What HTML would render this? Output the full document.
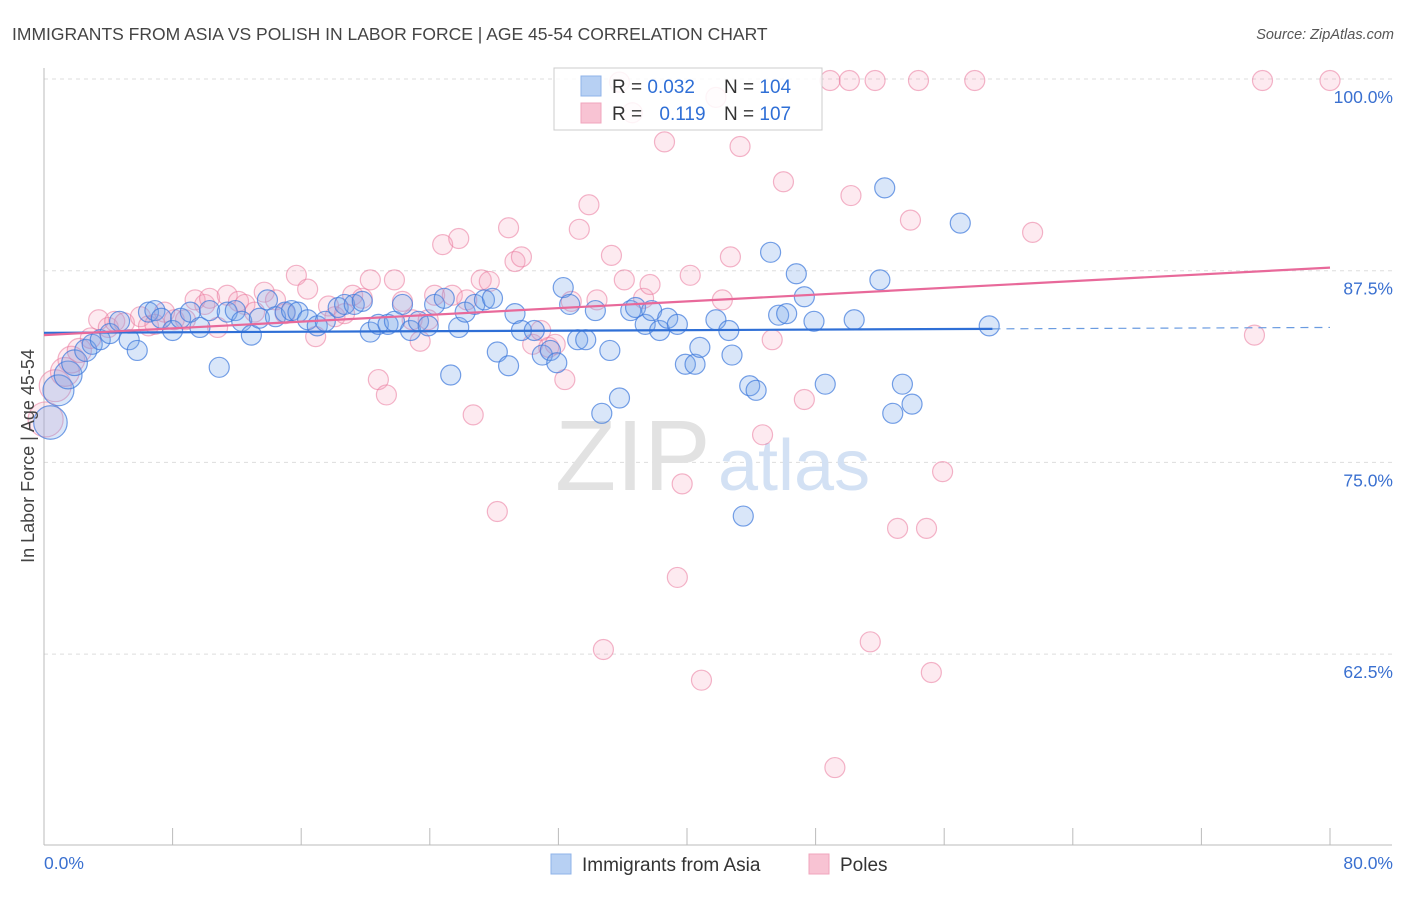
<!DOCTYPE html>
<html><head><meta charset="utf-8"><style>
body{margin:0;background:#fff;font-family:"Liberation Sans",sans-serif}
svg text{font-family:"Liberation Sans",sans-serif}
</style></head><body>
<svg id="chart" width="1406" height="892" xmlns="http://www.w3.org/2000/svg">
<text x="12" y="40" font-size="17.5" fill="#444">IMMIGRANTS FROM ASIA VS POLISH IN LABOR FORCE | AGE 45-54 CORRELATION CHART</text>
<text x="1394" y="39" font-size="14.5" fill="#555" font-style="italic" text-anchor="end">Source: ZipAtlas.com</text>
<g id="grid"></g>
<text x="555" y="490" font-size="100" fill="#e2e2e2" font-family="Liberation Serif">ZIP</text>
<text x="718" y="490" font-size="72" fill="#d3e1f4">atlas</text>
<g id="pts"></g>
<g id="lines"></g>
<text transform="translate(34,456) rotate(-90)" font-size="18" fill="#444" text-anchor="middle">In Labor Force | Age 45-54</text>
<g>
<rect x="554" y="68" width="268" height="62" fill="#fff" fill-opacity="0.85" stroke="#ccc"/>
<rect x="581" y="76" width="20" height="20" fill="#b7d0f3" stroke="#8fb3e8"/>
<rect x="581" y="103" width="20" height="20" fill="#f8c3d3" stroke="#f0a6bd"/>
<text x="612" y="93" font-size="19" fill="#333">R = <tspan fill="#2f6fd6">0.032</tspan></text>
<text x="724" y="93" font-size="19" fill="#333">N = <tspan fill="#2f6fd6">104</tspan></text>
<text x="612" y="120" font-size="19" fill="#333">R = <tspan fill="#2f6fd6" dx="12">0.119</tspan></text>
<text x="724" y="120" font-size="19" fill="#333">N = <tspan fill="#2f6fd6">107</tspan></text>
</g>
<g>
<rect x="551" y="854" width="20" height="20" fill="#b7d0f3" stroke="#8fb3e8"/>
<text x="582" y="871" font-size="19" fill="#333">Immigrants from Asia</text>
<rect x="809" y="854" width="20" height="20" fill="#f8c3d3" stroke="#f0a6bd"/>
<text x="840" y="871" font-size="19" fill="#333">Poles</text>
</g>
</svg>
<script>
const yTicks=[100,87.5,75,62.5];
const yTickLabels=["100.0%","87.5%","75.0%","62.5%"];
const xEndLabels=["0.0%","80.0%"];
const asiaX=[0.4,0.9,1.5,1.9,2.6,3.0,3.5,4.1,4.7,5.3,5.8,6.5,6.9,7.3,8.0,8.5,9.1,9.7,10.3,10.9,11.4,11.9,12.3,12.9,13.4,13.9,14.4,15.0,15.4,15.8,16.4,17.0,17.5,18.3,18.7,19.3,19.8,20.3,20.8,21.4,21.8,22.3,22.8,23.3,23.9,24.3,24.9,25.3,25.8,26.2,26.8,27.4,27.9,28.2,28.9,29.3,29.7,30.5,31.0,31.5,31.9,32.3,32.7,33.2,33.7,34.3,34.7,35.2,35.8,36.5,36.8,37.4,37.8,38.3,38.8,39.4,39.9,40.5,40.8,41.8,42.6,42.8,43.5,43.9,44.3,45.2,45.7,46.2,46.8,47.3,47.9,48.6,50.4,52.0,52.3,52.8,53.4,54.0,57.0,58.8];
const asiaY=[77.6,79.7,80.7,81.5,82.3,82.7,83.0,83.4,84.2,83.0,82.3,84.8,84.9,84.4,83.6,84.4,84.8,83.8,84.9,81.2,84.8,84.9,84.2,83.3,84.4,85.6,84.5,84.8,84.9,84.8,84.3,83.9,84.2,85.1,85.3,85.3,85.5,83.5,84.0,84.0,84.2,85.3,83.6,84.2,83.9,85.3,85.7,80.7,83.8,84.8,85.3,85.6,85.7,82.2,81.3,84.7,83.6,83.6,82.0,82.3,81.5,86.4,85.3,83.0,83.0,84.9,78.2,82.3,79.2,84.9,85.1,84.0,84.9,83.6,84.4,84.0,81.4,81.4,82.5,84.3,83.6,82.0,71.5,80.0,79.7,88.7,84.6,84.7,87.3,85.8,84.2,80.1,84.3,86.9,92.9,78.2,80.1,78.8,90.6,83.9];
const polesX=[0.1,0.7,1.3,1.7,2.2,2.9,3.4,4.0,4.4,5.0,6.0,6.5,6.9,7.5,8.1,8.8,9.4,10.0,10.3,10.8,11.4,12.1,12.5,13.1,13.7,14.4,15.0,15.7,16.4,16.9,17.7,18.1,18.7,19.2,19.8,20.3,20.8,21.3,21.8,22.3,22.9,23.4,23.9,24.3,24.8,25.4,25.8,26.3,26.7,27.2,27.7,28.2,28.9,29.3,29.7,30.4,30.9,31.4,31.8,32.4,32.8,33.3,33.9,34.4,34.8,35.3,35.8,36.1,36.6,37.3,37.7,38.6,39.4,39.7,40.2,40.9,41.8,42.2,42.7,43.3,44.7,45.3,46.0,47.3,48.9,49.2,50.1,50.2,51.4,51.7,53.1,53.9,54.4,54.9,55.2,55.9,57.9,61.5,75.3,75.8,80.0];
const polesY=[77.8,80.0,80.9,81.7,82.3,83.1,84.3,83.8,84.2,84.1,84.5,83.9,84.0,84.8,84.3,84.3,85.6,85.3,85.7,83.8,85.9,85.5,85.3,84.8,86.1,85.6,84.7,87.2,86.3,83.2,85.2,84.5,84.7,85.9,85.7,86.9,80.4,79.4,86.9,85.5,84.3,82.9,84.3,85.9,89.2,85.9,89.6,85.6,78.1,86.9,86.8,71.8,90.3,88.1,88.4,82.7,83.6,82.5,82.7,80.4,85.5,90.2,91.8,85.6,62.8,88.5,99.8,86.9,97.8,85.7,86.6,95.9,67.5,73.6,87.2,60.8,98.8,85.6,88.4,95.6,76.8,83.0,93.3,79.1,99.9,55.1,99.9,92.4,63.3,99.9,70.7,90.8,99.9,70.7,61.3,74.4,99.9,90.0,83.3,99.9,99.9];
const asiaTrend=[83.45,83.8];
const asiaSolidEnd=59;
const polesTrend=[83.3,87.7];
const NS="http://www.w3.org/2000/svg";
const X0=44,X1=1330,Y100=79,PX125=191.7;
const sx=v=>X0+(v/80)*(X1-X0);
const sy=v=>Y100+(100-v)/12.5*PX125;
function mk(t,a,p){const e=document.createElementNS(NS,t);for(const k in a)e.setAttribute(k,a[k]);p.appendChild(e);return e;}
const svg=document.getElementById('chart'),grid=document.getElementById('grid'),pts=document.getElementById('pts'),lines=document.getElementById('lines');
yTicks.forEach((t,i)=>{
 const l=mk('line',{x1:X0,x2:1392,y1:sy(t),y2:sy(t),stroke:'#ddd','stroke-dasharray':'4,4'},grid);
 
 
 const tx=mk('text',{x:1393,y:sy(t)+24,'font-size':17.5,fill:'#3a70d0','text-anchor':'end'},grid);
 tx.textContent=yTickLabels[i];
 
 
});
const ax=mk('line',{x1:X0,x2:X0,y1:68,y2:845,stroke:'#bbb'},grid);


const bx=mk('line',{x1:X0,x2:1392,y1:845,y2:845,stroke:'#bbb'},grid);


for(let i=0;i<=10;i++){const v=i*8;
 const t=mk('line',{x1:sx(v),x2:sx(v),y1:828,y2:845,stroke:'#bbb'},grid);
 
 
}
[[0,'start',44],[80,'end',1393]].forEach((d,i)=>{
 const t=mk('text',{x:d[2],y:869,'font-size':17.5,fill:'#3a70d0','text-anchor':d[1]},grid);
 t.textContent=xEndLabels[i];
 
 
});
const rad=x=>x<3?10+(3-x)*2.6:10;
function series(xs,ys,fill,stroke,name){xs.forEach((x,i)=>{
 const c=mk('circle',{cx:sx(x),cy:sy(ys[i]),r:rad(x),fill:fill,stroke:stroke,'stroke-width':1.2},pts);
 
 
});}
series(polesX,polesY,'rgba(244,160,188,0.22)','rgba(234,120,156,0.55)','poles-point');
series(asiaX,asiaY,'rgba(120,165,235,0.28)','rgba(60,120,220,0.7)','asia-point');
const ay=x=>asiaTrend[0]+(asiaTrend[1]-asiaTrend[0])*x/80;
const l1=mk('line',{x1:sx(0),y1:sy(ay(0)),x2:sx(asiaSolidEnd),y2:sy(ay(asiaSolidEnd)),stroke:'#2f6fd6','stroke-width':2.2},lines);


const l2=mk('line',{x1:sx(asiaSolidEnd),y1:sy(ay(asiaSolidEnd)),x2:sx(80),y2:sy(ay(80)),stroke:'#6a9be0','stroke-width':1.2,'stroke-dasharray':'8,6'},lines);


const l3=mk('line',{x1:sx(0),y1:sy(polesTrend[0]),x2:sx(80),y2:sy(polesTrend[1]),stroke:'#e8699a','stroke-width':2.2},lines);


</script>
</body></html>
